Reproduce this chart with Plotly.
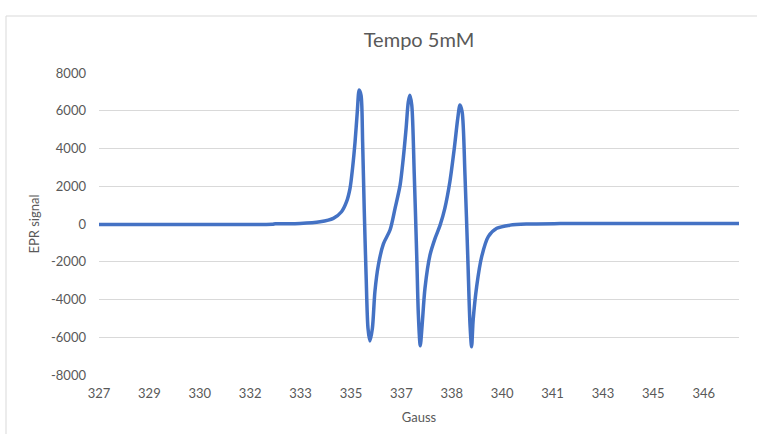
import plotly.graph_objects as go

# Data (Gauss, EPR signal)
gauss = [327.0, 330.2, 332.5, 332.6, 333.38, 334.02, 334.44, 334.70, 334.86, 334.97,
         335.05, 335.13, 335.20, 335.26, 335.32, 335.37, 335.42, 335.48, 335.54, 335.60,
         335.68, 335.76, 335.87, 336.03, 336.24, 336.40, 336.56, 336.66, 336.75, 336.82,
         336.87, 336.93, 337.01, 337.09, 337.14, 337.20, 337.26, 337.35, 337.51, 337.67,
         337.83, 337.98, 338.14, 338.28, 338.39, 338.46, 338.53, 338.62, 338.71, 338.78,
         338.83, 338.88, 338.99, 339.15, 339.36, 339.63, 340.05, 340.58, 341.64, 347.35]
signal = [-20, -20, -15, 10, 30, 120, 300, 650, 1180, 1890,
          2950, 4350, 5930, 7100, 6820, 4350, 830, -2700, -5520, -6200,
          -5520, -3580, -2170, -1050, -320, 830, 2060, 3470, 5060, 6460,
          6820, 6300, 2590, -1820, -4810, -6450, -5340, -3400, -1640, -760,
          -60, 830, 2240, 4000, 5590, 6300, 5930, 2590, -1820, -5340,
          -6500, -5080, -3320, -1730, -670, -230, -60, 0, 20, 20]

tick_labels = ["327", "329", "330", "332", "333", "335", "337", "338",
               "340", "341", "343", "345", "346"]
tick_start = 327.0
tick_step = 1.6
x_range = [327.0, 347.32]
y_ticks = [-8000, -6000, -4000, -2000, 0, 2000, 4000, 6000, 8000]

tickvals = [tick_start + i * tick_step for i in range(len(tick_labels))]

FONT = "Lato"
GREY = "#595959"

fig = go.Figure()
fig.add_trace(go.Scatter(
    x=gauss, y=signal, mode="lines",
    line=dict(color="#4472C4", width=3.5, shape="spline", smoothing=0.8),
    showlegend=False, hoverinfo="x+y"))

W, H = 757, 434
L, R, T, B = 99, 18, 73, 59
pw, ph = W - L - R, H - T - B

def px_to_paper_x(px):
    return (px - L) / pw

def py_to_paper_y(py):
    return (H - B - py) / ph

fig.update_layout(
    width=W, height=H,
    margin=dict(l=L, r=R, t=T, b=B),
    paper_bgcolor="white", plot_bgcolor="white",
    font=dict(family=FONT, color=GREY, size=13),
    title=dict(text="Tempo 5mM", x=0.5, xref="paper", xanchor="center",
               y=1 - 40 / H, yanchor="middle",
               font=dict(family=FONT, size=20, color=GREY)),
    xaxis=dict(range=x_range, tickmode="array", tickvals=tickvals, ticktext=tick_labels,
               showgrid=False, zeroline=False, showline=False, ticks="",
               ticklabelstandoff=9,
               tickfont=dict(family=FONT, size=13, color=GREY),
               title=dict(text="Gauss", font=dict(family=FONT, size=13, color=GREY),
                          standoff=12)),
    yaxis=dict(range=[-8000, 8000], tickmode="array", tickvals=y_ticks,
               ticktext=[str(v) for v in y_ticks],
               showgrid=True, gridcolor="#d9d9d9", gridwidth=1,
               zeroline=False, showline=False, ticks="",
               ticklabelstandoff=12,
               tickfont=dict(family=FONT, size=13, color=GREY),
               title=dict(text="EPR signal", font=dict(family=FONT, size=13, color=GREY),
                          standoff=8)),
    shapes=[dict(type="rect", xref="paper", yref="paper",
                 x0=px_to_paper_x(6), x1=px_to_paper_x(765),
                 y0=py_to_paper_y(445), y1=py_to_paper_y(16),
                 line=dict(color="#d9d9d9", width=1), fillcolor="rgba(0,0,0,0)",
                 layer="below")],
)

fig.write_html("out.html")
